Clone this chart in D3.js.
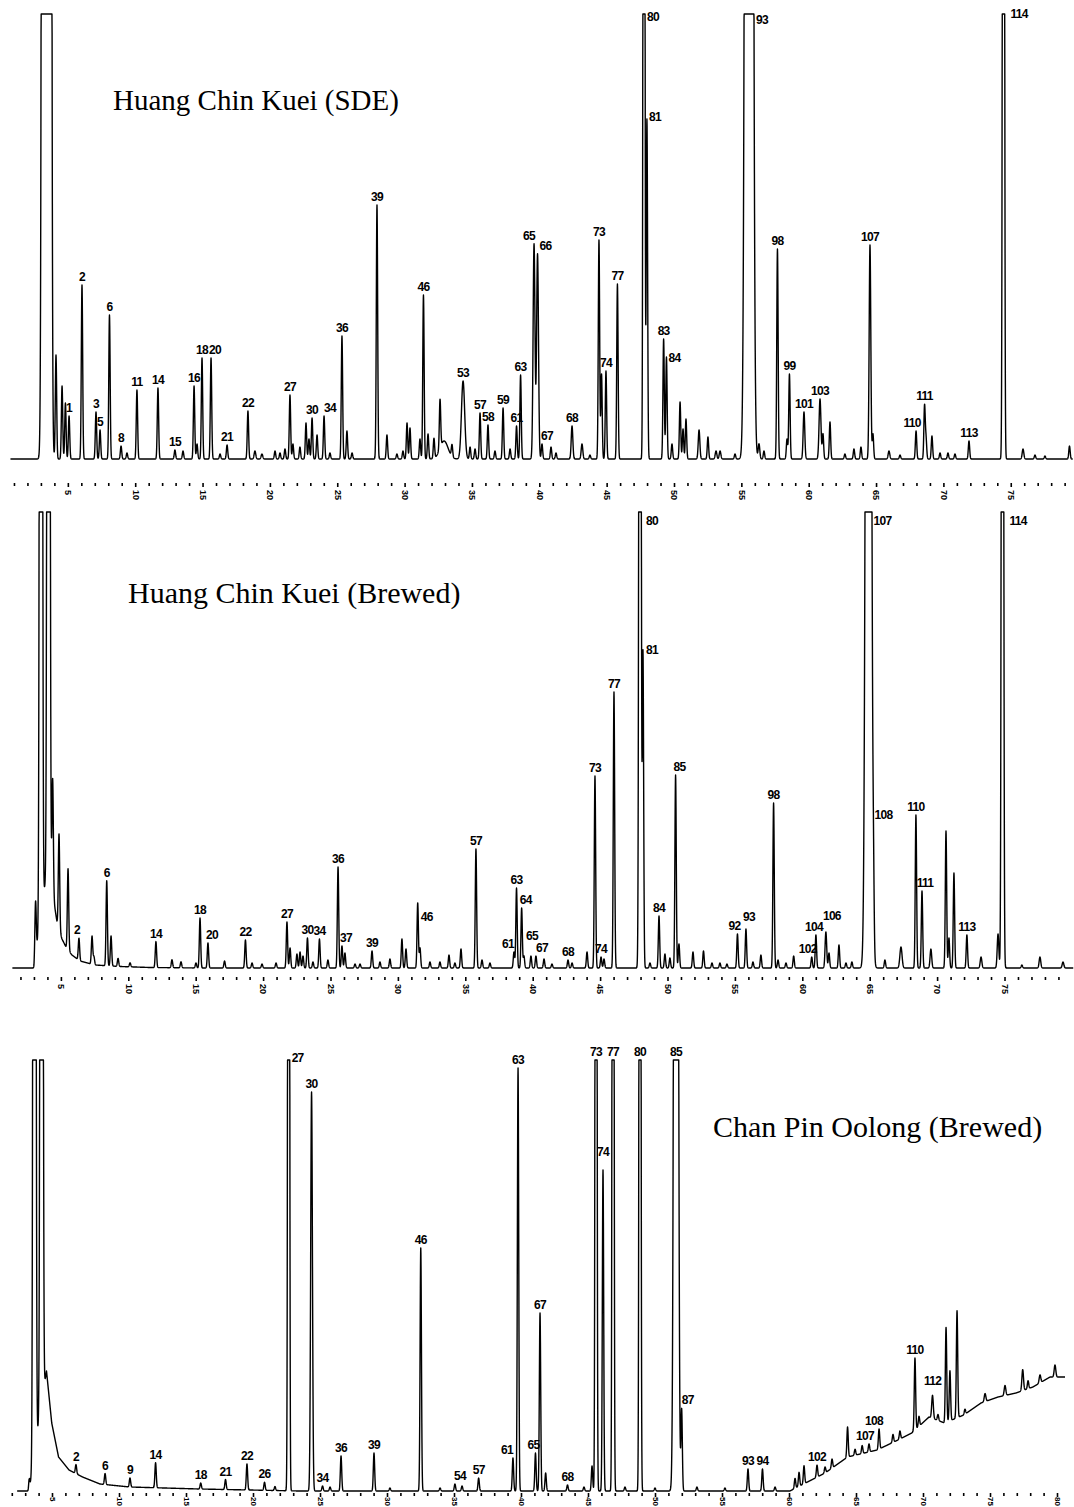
<!DOCTYPE html>
<html>
<head>
<meta charset="utf-8">
<script src="https://cdn.jsdelivr.net/npm/d3@7"></script>
<style>
  body { margin: 0; background: #fff; }
  .title { font-family: "Liberation Serif", "Times New Roman", serif; font-size: 30px; fill: #000; }
  .plab { font-family: "Liberation Sans", Arial, sans-serif; font-size: 12px; font-weight: bold; letter-spacing: -0.7px; fill: #000; }
  .tick text { font-family: "Liberation Sans", Arial, sans-serif; font-size: 9px; font-weight: bold; fill: #000; }
  .tick line { stroke: #000; stroke-width: 1.6; }
</style>
</head>
<body>
<svg id="chart" width="1074" height="1507"></svg>
<script>

// peak lists: [retention time (min), height, sigma (min), peak number]
let sdePeaks = [
  [3.42,72000,0.128,''],[4.12,104,0.05,''],[4.57,73,0.05,''],[4.82,56,0.05,''],[5.09,43,0.05,'1'],
  [6.05,174,0.05,'2'],[7.09,47,0.05,'3'],[7.39,29,0.05,'5'],[8.09,144,0.05,'6'],[8.95,13,0.05,'8'],
  [9.39,6,0.05,''],[10.13,69,0.05,'11'],[11.69,71,0.05,'14'],[12.95,9,0.05,'15'],[13.55,8,0.05,''],
  [14.37,73,0.05,'16'],[14.59,15,0.05,''],[14.96,101,0.05,'18'],[15.63,101,0.05,'20'],[16.3,5,0.05,''],
  [16.82,14,0.05,'21'],[18.37,48,0.05,'22'],[18.89,8,0.06,''],[19.41,5,0.06,''],[20.38,8,0.05,''],
  [20.75,6,0.05,''],[21.12,10,0.05,''],[21.49,64,0.05,'27'],[21.71,15,0.05,''],[22.23,12,0.05,''],
  [22.68,36,0.05,''],[22.9,20,0.05,''],[23.13,41,0.05,'30'],[23.5,24,0.05,''],[24.02,43,0.05,'34'],
  [24.46,6,0.05,''],[25.35,123,0.05,'36'],[25.72,28,0.05,''],[26.1,6,0.05,''],[27.95,254,0.05,'39'],
  [28.69,24,0.05,''],[29.43,5,0.05,''],[29.88,8,0.05,''],[30.18,36,0.05,''],[30.4,31,0.05,''],
  [31.14,20,0.05,''],[31.4,164,0.05,'46'],[31.74,25,0.05,''],[32.18,20,0.05,''],[32.63,49,0.05,''],
  [32.93,18,0.3,''],[33.52,12,0.05,''],[34.34,78,0.12,'53'],[34.86,12,0.05,''],[35.23,10,0.05,''],
  [35.6,46,0.05,'57'],[36.19,34,0.05,'58'],[36.71,8,0.05,''],[37.31,51,0.05,'59'],[37.83,10,0.05,''],
  [38.31,33,0.05,'61'],[38.61,84,0.05,'63'],[39.61,215,0.07,'65'],[39.87,205,0.07,'66'],[40.2,15,0.05,'67'],
  [40.87,12,0.05,''],[41.24,6,0.05,''],[42.43,33,0.06,'68'],[43.17,15,0.06,''],[43.76,4,0.05,''],
  [44.43,219,0.05,'73'],[44.62,85,0.05,''],[44.95,88,0.05,'74'],[45.8,175,0.05,'77'],[47.77,2000,0.05,'80'],
  [47.99,340,0.05,'81'],[49.23,120,0.05,'83'],[49.44,102,0.05,'84'],[49.85,15,0.05,''],[50.45,57,0.05,''],
  [50.67,30,0.05,''],[50.89,40,0.05,''],[51.86,29,0.06,''],[52.52,22,0.05,''],[53.12,8,0.06,''],
  [53.42,8,0.06,''],[54.53,5,0.05,''],[55.57,5800,0.163,'93'],[56.31,15,0.06,''],[56.68,8,0.05,''],
  [57.68,210,0.05,'98'],[58.39,20,0.05,''],[58.57,85,0.05,'99'],[59.65,47,0.06,'101'],[60.84,60,0.07,'103'],
  [61.06,25,0.05,''],[61.58,37,0.05,''],[62.69,5,0.05,''],[63.36,10,0.05,''],[63.88,12,0.05,''],
  [64.55,214,0.06,'107'],[64.77,25,0.05,''],[65.96,8,0.06,''],[66.78,4,0.05,''],[67.97,28,0.05,'110'],
  [68.6,53,0.05,'111'],[68.71,20,0.05,''],[69.15,23,0.05,''],[69.75,6,0.05,''],[70.34,6,0.05,''],
  [70.86,5,0.05,''],[71.9,18,0.05,'113'],[74.46,2000,0.055,'114'],[75.91,10,0.06,''],[76.8,4,0.05,''],
  [77.54,3,0.05,''],[79.36,13,0.05,'']
];

let brewedPeaks = [
  [3.12,55,0.05,''],[3.52,3000,0.07,''],[4.08,3000,0.07,''],[4.39,114,0.05,''],[4.86,95,0.05,''],
  [5.53,81,0.05,''],[6.34,22,0.05,'2'],[7.31,28,0.05,''],[7.45,8,0.05,''],[8.4,85,0.05,'6'],
  [8.72,30,0.05,''],[9.24,8,0.05,''],[10.13,4,0.05,''],[12.05,26,0.05,'14'],[13.24,8,0.05,''],
  [13.91,6,0.05,''],[15.02,5,0.05,''],[15.32,50,0.05,'18'],[15.91,25,0.05,'20'],[17.14,7,0.05,''],
  [18.69,28,0.05,'22'],[19.18,5,0.05,''],[19.92,4,0.05,''],[20.96,5,0.05,''],[21.77,46,0.05,'27'],
  [22.0,20,0.05,''],[22.51,14,0.05,''],[22.74,16,0.05,''],[22.96,12,0.05,''],[23.29,30,0.05,'30'],
  [23.7,6,0.05,''],[24.18,29,0.05,'34'],[24.81,8,0.05,''],[25.56,101,0.05,'36'],[25.85,22,0.05,'37'],
  [26.07,15,0.05,''],[26.82,4,0.05,''],[27.19,4,0.05,''],[28.08,17,0.05,'39'],[28.67,6,0.05,''],
  [29.41,9,0.05,''],[30.3,29,0.05,''],[30.6,19,0.05,''],[31.47,65,0.05,'46'],[31.64,20,0.05,''],
  [32.38,6,0.05,''],[33.12,6,0.05,''],[33.79,13,0.05,''],[34.23,5,0.05,''],[34.68,19,0.05,''],
  [35.79,119,0.05,'57'],[36.24,8,0.05,''],[36.83,5,0.05,''],[38.61,16,0.05,'61'],[38.8,80,0.05,'63'],
  [39.18,60,0.05,'64'],[39.35,12,0.05,''],[39.87,12,0.05,'65'],[40.24,12,0.05,'67'],[40.84,9,0.05,''],
  [41.43,4,0.05,''],[42.62,8,0.05,'68'],[42.92,5,0.05,''],[44.03,16,0.05,''],[44.62,192,0.05,'73'],
  [45.07,11,0.05,'74'],[45.29,9,0.05,''],[46.03,276,0.05,'77'],[47.96,2000,0.06,'80'],[48.18,316,0.05,'81'],
  [48.7,5,0.05,''],[49.37,52,0.05,'84'],[49.81,14,0.05,''],[50.18,10,0.05,''],[50.6,193,0.05,'85'],
  [50.85,24,0.05,''],[51.89,16,0.05,''],[52.67,17,0.05,''],[53.3,5,0.05,''],[53.89,5,0.05,''],
  [54.41,4,0.05,''],[55.19,34,0.05,'92'],[55.82,39,0.05,'93'],[56.34,6,0.05,''],[56.93,13,0.05,''],
  [57.87,165,0.05,'98'],[58.2,8,0.05,''],[58.79,5,0.05,''],[59.36,12,0.05,''],[60.7,11,0.05,'102'],
  [61.01,33,0.05,'104'],[61.75,36,0.06,'106'],[61.98,15,0.05,''],[62.72,23,0.05,''],[63.24,5,0.05,''],
  [63.68,6,0.05,''],[64.91,2300,0.145,'107'],[65.28,56,0.05,'108'],[66.13,8,0.05,''],[67.32,21,0.08,''],
  [68.43,153,0.05,'110'],[68.88,77,0.05,'111'],[69.54,19,0.06,''],[70.66,137,0.05,''],[70.88,30,0.05,''],
  [71.25,95,0.05,''],[72.21,33,0.05,'113'],[73.26,11,0.06,''],[74.52,34,0.06,''],[74.85,2000,0.06,'114'],
  [76.29,3,0.05,''],[77.63,11,0.06,''],[79.34,6,0.06,'']
];

let oolongPeaks = [
  [3.3,12,0.04,''],[3.69,3000,0.07,''],[4.22,3000,0.07,''],[6.79,9,0.05,'2'],[8.96,11,0.05,'6'],
  [10.82,9,0.05,'9'],[12.73,25,0.05,'14'],[16.1,6,0.05,'18'],[17.95,10,0.05,'21'],[19.55,26,0.05,'22'],
  [20.86,8,0.05,'26'],[21.64,4,0.05,''],[22.66,2000,0.05,'27'],[24.37,399,0.065,'30'],[25.19,5,0.05,'34'],
  [25.75,4,0.05,''],[26.57,35,0.05,'36'],[29.03,38,0.05,'39'],[30.22,3,0.05,''],[32.52,243,0.05,'46'],
  [33.96,3,0.05,''],[35.07,7,0.05,'54'],[35.6,5,0.05,''],[36.84,13,0.05,'57'],[39.4,33,0.05,'61'],
  [39.78,423,0.05,'63'],[41.08,38,0.05,'65'],[41.42,178,0.05,'67'],[41.84,18,0.05,''],[43.47,6,0.05,'68'],
  [44.7,4,0.05,''],[45.3,25,0.05,''],[45.6,2000,0.05,'73'],[46.12,321,0.05,'74'],[46.87,2000,0.05,'77'],
  [47.76,4,0.05,''],[48.88,2000,0.05,'80'],[50.0,3,0.05,''],[51.57,2450,0.11,'85'],[51.99,81,0.05,'87'],
  [53.13,4,0.05,''],[55.22,3,0.05,''],[56.94,22,0.05,'93'],[58.02,22,0.05,'94'],[58.96,4,0.05,''],
  [60.45,10,0.05,''],[60.75,14,0.05,''],[61.12,18,0.05,''],[62.09,12,0.05,'102'],[62.69,6,0.05,''],
  [63.21,9,0.05,''],[64.37,30,0.05,''],[64.93,6,0.05,''],[65.46,8,0.05,''],[65.97,8,0.05,'107'],
  [66.72,20,0.05,'108'],[67.76,8,0.05,''],[68.28,8,0.05,''],[69.4,72,0.05,'110'],[69.7,10,0.05,''],
  [70.71,23,0.06,'112'],[71.12,6,0.05,''],[71.72,95,0.05,''],[72.01,50,0.05,''],[72.54,107,0.05,''],
  [73.13,5,0.05,''],[74.63,8,0.06,''],[76.12,10,0.06,''],[77.44,21,0.06,''],[77.84,8,0.05,''],
  [78.73,8,0.06,''],[79.85,12,0.06,'']
];

// baseline (drift / solvent tail) knots: [time, level]
let sdeBase = [[0,0],[82,0]];
let brewedBase = [[0,0],[3.0,0],[4.1,110],[4.41,73],[4.71,46],[5.08,29],[5.38,21],[5.82,13],
  [6.42,7],[7.53,3],[9.38,1.5],[11.6,0.5],[15.3,0],[82,0]];
let oolongBase = [[0,0],[3.3,0],[4.59,120],[4.98,68],[5.49,34],[6.27,21],[7.28,14],[8.58,7],
  [10.8,4],[16,2],[23.5,0],[60.07,0],[62.69,18],[64.37,34],[66.57,41],[68.13,51],[69.16,58],
  [70.45,74],[71.61,68],[73.04,76],[74.33,88],[75.6,94],[76.94,98],[78.2,104],[79.48,114],[80.52,114],[82,114]];

let titles = ['Huang Chin Kuei (SDE)', 'Huang Chin Kuei (Brewed)', 'Chan Pin Oolong (Brewed)'];
let tickLabels1 = [5,10,15,20,25,30,35,40,45,50,55,60,65,70,75];
let tickLabels3 = [5,10,15,20,25,30,35,40,45,50,55,60,65,70,75,80];

let svg = d3.select('#chart');

// layout of each trace (pixels)
let panels = [
  {peaks: sdePeaks, base: sdeBase, title: titles[0], tx: 113, ty: 110, fs: 29,
   y0: 459, H: 445, r: [0.5, 0.5 + 13.47*80], dom: [0,80], t0: 0.74, t1: 79.6,
   axisY: 483, labX: 7, ticks: d3.range(1,80), major: tickLabels1,
   nudge: {'80':{r:1,dx:3,dy:3}, '81':{r:1,dx:2,dy:-2}, '84':{r:1,dx:2,dy:1}, '93':{r:1,dx:7,dy:6},
           '114':{r:1,dx:7,dy:0}, '65':{dx:-5}, '66':{dx:8}, '34':{dx:6}, '67':{dx:5}, '110':{dx:-4}, '20':{dx:4}}},
  {peaks: brewedPeaks, base: brewedBase, title: titles[1], tx: 128, ty: 603, fs: 30,
   y0: 968, H: 456, r: [-6.5, -6.5 + 13.48*80], dom: [0,80], t0: 1.4, t1: 80.1,
   axisY: 977, labX: 7, ticks: d3.range(2,80), major: tickLabels1,
   nudge: {'80':{r:1,dx:6,dy:9}, '81':{r:1,dx:3,dy:0}, '107':{r:1,dx:5,dy:9}, '114':{r:1,dx:7,dy:9},
           '46':{r:1,dx:3,dy:14}, '64':{dx:4}, '61':{dx:-6}, '108':{dx:10}, '20':{dx:4}, '2':{dx:-2},
           '37':{dx:4}, '65':{dx:1,dy:-12}, '67':{dx:6}, '85':{dx:4}, '102':{dx:-4}, '104':{dx:-2},
           '106':{dx:6,dy:-8}, '111':{dx:3}, '92':{dx:-3}, '93':{dx:3,dy:-4}}},
  {peaks: oolongPeaks, base: oolongBase, title: titles[2], tx: 713, ty: 1137, fs: 30,
   y0: 1491, H: 431, r: [-15, -15 + 13.4*82], dom: [0,82], t0: 2.4, t1: 80.6,
   axisY: 1493, labX: 4, ticks: d3.range(2,81), major: tickLabels3,
   nudge: {'27':{r:1,dx:3,dy:-2}, '74':{dy:-10}, '54':{dx:5}, '61':{dx:-6}, '65':{dx:-2},
           '87':{dx:6}, '107':{dx:-4}, '108':{dx:-5}, '112':{dy:-6}}}
];

let step = 0.01;

// sum the peaks on top of the baseline
function buildTrace(p) {
  let n = Math.round((p.t1 - p.t0) / step);
  let ts = d3.range(n + 1).map(i => p.t0 + i * step);
  let drift = d3.scaleLinear()
    .domain(p.base.map(k => k[0]))
    .range(p.base.map(k => k[1]))
    .clamp(true);
  let v = ts.map(t => drift(t));
  p.peaks.forEach(pk => {
    let tp = pk[0], h = pk[1], s = pk[2];
    let i0 = Math.max(0, Math.floor((tp - 6*s - p.t0) / step));
    let i1 = Math.min(n, Math.ceil((tp + 6*s - p.t0) / step));
    for (let i = i0; i <= i1; i++) {
      let d = ts[i] - tp;
      v[i] += h * Math.exp(-d*d / (2*s*s));
    }
  });
  return ts.map((t, i) => [t, v[i]]);
}

function drawPanel(p, k) {
  let x = d3.scaleLinear().domain(p.dom).range(p.r);
  let y = d3.scaleLinear().domain([0, p.H]).range([p.y0, p.y0 - p.H]);
  let data = buildTrace(p);

  // pen saturates at the top of the chart
  let line = d3.line()
    .x(d => x(d[0]))
    .y(d => y(Math.min(d[1], p.H)));

  svg.append('path')
    .datum(data)
    .attr('d', line)
    .attr('fill', 'none')
    .attr('stroke', '#000')
    .attr('stroke-width', 1.4)
    .attr('stroke-linejoin', 'round');

  // time axis, dotted ticks every minute
  let axis = d3.axisBottom(x)
    .tickValues(p.ticks)
    .tickSize(3)
    .tickPadding(0)
    .tickFormat(d => p.major.indexOf(d) >= 0 ? d : '');

  let g = svg.append('g')
    .attr('transform', 'translate(0,' + p.axisY + ')')
    .call(axis);
  g.select('.domain').remove();
  g.selectAll('.tick line')
    .attr('y2', d => p.major.indexOf(d) >= 0 ? 4 : 3);
  g.selectAll('.tick text')
    .attr('transform', 'rotate(90)')
    .attr('x', p.labX)
    .attr('y', 0)
    .attr('dy', '0.35em')
    .style('font-size', k == 2 ? '8px' : null)
    .style('text-anchor', 'start');

  // peak numbers
  let labelled = p.peaks.filter(pk => pk[3] !== '');
  labelled.forEach(pk => {
    let i = Math.round((pk[0] - p.t0) / step);
    let top = y(Math.min(data[i][1], p.H));
    let nd = p.nudge[pk[3]] || {};
    let t = svg.append('text')
      .attr('class', 'plab')
      .text(pk[3]);
    if (nd.r) {
      t.attr('x', x(pk[0]) + (nd.dx || 0))
        .attr('y', top + (nd.dy || 0))
        .attr('dy', '0.35em')
        .attr('text-anchor', 'start');
    } else {
      t.attr('x', x(pk[0]) + (nd.dx || 0))
        .attr('y', top - 4 + (nd.dy || 0))
        .attr('text-anchor', 'middle');
    }
  });

  svg.append('text')
    .attr('class', 'title')
    .attr('x', p.tx)
    .attr('y', p.ty)
    .style('font-size', p.fs + 'px')
    .text(p.title);
}

panels.forEach(drawPanel);

</script>
</body>
</html>
